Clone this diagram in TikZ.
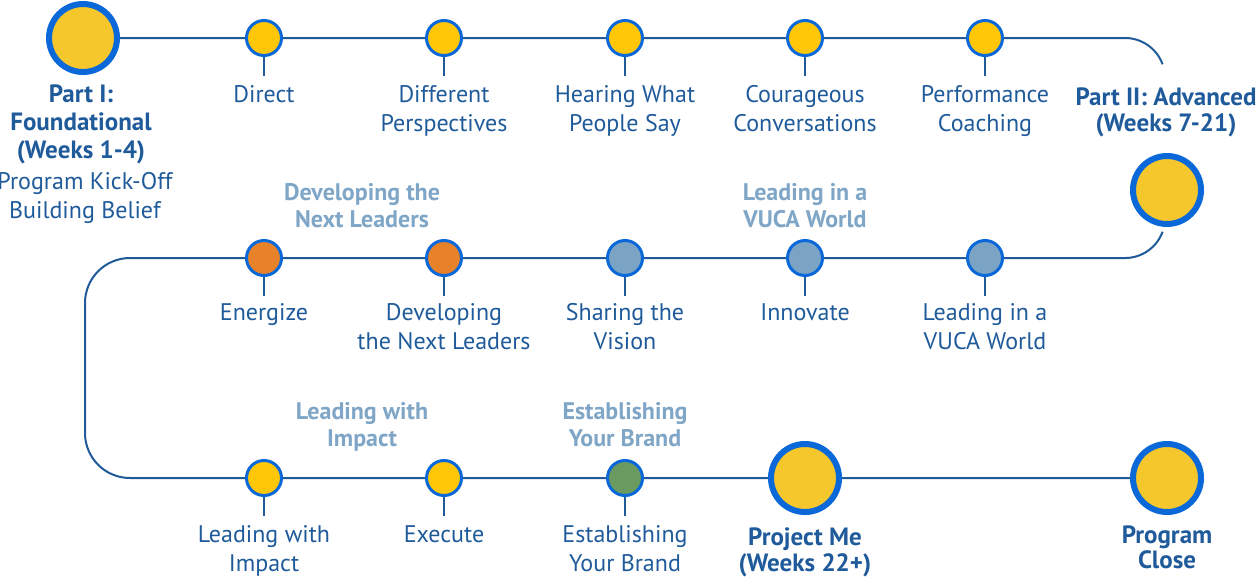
\documentclass[tikz,border=0pt]{standalone}
\usepackage{fontspec}
\setmainfont{PT Sans}
\definecolor{ln}{HTML}{1F5A9A}
\definecolor{bd}{HTML}{0A68D8}
\definecolor{yl}{HTML}{F5C72C}
\definecolor{ys}{HTML}{FFC708}
\definecolor{og}{HTML}{E8822A}
\definecolor{bg}{HTML}{7BA3C4}
\definecolor{gr}{HTML}{6A9A60}
\definecolor{tx}{HTML}{1F5A9A}
\definecolor{lt}{HTML}{7FA6C6}
\begin{document}
\begin{tikzpicture}[x=1pt,y=-1pt,
  big/.style={circle,draw=bd,line width=6pt,fill=yl,minimum size=68pt,inner sep=0pt},
  sm/.style={circle,draw=bd,line width=3pt,minimum size=35pt,inner sep=0pt},
  lab/.style={anchor=base,align=center,text=tx,font=\fontsize{24}{29}\selectfont,inner sep=0pt},
  blab/.style={lab,font=\fontsize{25}{28}\selectfont\bfseries},
  llab/.style={lab,text=lt,font=\fontsize{24}{26.5}\selectfont\bfseries},
  conn/.style={draw=ln,line width=2pt},
  tick/.style={draw=ln,line width=1.2pt}]
\useasboundingbox (0,0) rectangle (1258,576);
\coordinate (r1e) at (1125,38);
\coordinate (r2e) at (1125,258);
\coordinate (r2w) at (130,258);
\coordinate (r3w) at (130,478);
\coordinate (p2s) at (1162.6,231.7);
\draw[conn] (83,38) -- (r1e) arc[start angle=-90,end angle=-20,radius=40];
\draw[conn] (p2s) arc[start angle=20,end angle=90,radius=40] -- (r2w) arc[start angle=-90,end angle=-180,radius=45] -- (85,433) arc[start angle=180,end angle=90,radius=45] -- (r3w) -- (1167,478);
\node[big] (p1) at (83,38) {};
\node[big] (p2) at (1167,190) {};
\node[big] (pm) at (805,478) {};
\node[big] (pc) at (1167,478) {};
\foreach \n/\x/\c in {a/264/ys,b/444/ys,c/625/ys,d/805/ys,e/985/ys}
  \node[sm,fill=\c] (r1\n) at (\x,38) {};
\foreach \n/\x/\c in {a/264/og,b/444/og,c/625/bg,d/805/bg,e/985/bg}
  \node[sm,fill=\c] (r2\n) at (\x,258) {};
\foreach \n/\x/\c in {a/264/ys,b/444/ys,c/625/gr}
  \node[sm,fill=\c] (r3\n) at (\x,478) {};
\foreach \x in {264,444,625,805,985} {\draw[tick] (\x,57) -- (\x,76); \draw[tick] (\x,277) -- (\x,296);}
\foreach \x in {264,444,625} \draw[tick] (\x,497) -- (\x,516);
% row 1
\node[blab] (t1) at (81,158) {Part I:\\Foundational\\(Weeks 1-4)};
\node[lab] (t1b) at (85,218) {Program Kick-Off\\Building Belief};
\node[lab] (l1a) at (264,102) {Direct};
\node[lab] (l1b) at (444,131) {Different\\Perspectives};
\node[lab] (l1c) at (625,131) {Hearing What\\People Say};
\node[lab] (l1d) at (805,131) {Courageous\\Conversations};
\node[lab] (l1e) at (985,131) {Performance\\Coaching};
\node[blab,font=\fontsize{25}{26}\selectfont\bfseries] (t2) at (1166,131) {Part II: Advanced\\(Weeks 7-21)};
% row 2
\node[llab] (h2a) at (362,227) {Developing the\\Next Leaders};
\node[llab] (h2b) at (805,227) {Leading in a\\VUCA World};
\node[lab] (l2a) at (264,320) {Energize};
\node[lab] (l2b) at (444,349) {Developing\\the Next Leaders};
\node[lab] (l2c) at (625,349) {Sharing the\\Vision};
\node[lab] (l2d) at (805,320) {Innovate};
\node[lab] (l2e) at (985,349) {Leading in a\\VUCA World};
% row 3
\node[llab] (h3a) at (362,446) {Leading with\\Impact};
\node[llab] (h3b) at (625,446) {Establishing\\Your Brand};
\node[lab] (l3a) at (264,571) {Leading with\\Impact};
\node[lab] (l3b) at (444,542) {Execute};
\node[lab] (l3c) at (625,571) {Establishing\\Your Brand};
\node[blab,font=\fontsize{25}{26}\selectfont\bfseries] (t3) at (805,571) {Project Me\\(Weeks 22+)};
\node[blab,font=\fontsize{25}{23}\selectfont\bfseries] (t4) at (1167,568) {Program\\Close};
\end{tikzpicture}
\end{document}
